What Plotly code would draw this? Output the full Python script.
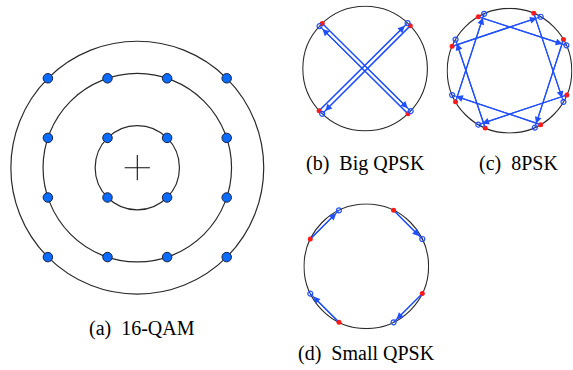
import numpy as np
import plotly.graph_objects as go

W, H = 573, 370

# ---------------- data ----------------
qam_levels = [-3, -1, 1, 3]

bigqpsk_red_deg = [43.5, 133.5, 222.5, 313.5]
bigqpsk_blue_deg = [47, 137, 226.5, 317]
bigqpsk_target = [2, 3, 0, 1]

psk8_red_deg = [30, 67, 120, 157, 210, 247, 300, 337]
psk8_blue_deg = [24, 60, 114, 150, 203, 240, 294, 330]
psk8_target = [6, 7, 0, 1, 2, 3, 4, 5]

smallqpsk_red_deg = [64, 154, 244, 334]
smallqpsk_blue_deg = [26, 116, 206, 296]
smallqpsk_target = [0, 1, 2, 3]

captions = ["(a)\u00a0\u00a016-QAM", "(b)\u00a0\u00a0Big QPSK",
            "(c)\u00a0\u00a08PSK", "(d)\u00a0\u00a0Small QPSK"]

# ---------------- style ----------------
BLUE = "#1f4fff"
DOT = "#0a6cff"
RED = "#ff1a1a"
RING = "#2a2a2a"
FONT = "Liberation Serif, Times New Roman, serif"

fig = go.Figure()
layout = {}


def add_axes(idx, cx, cy, ppu, half):
    r = half / ppu
    xd = [max(0, (cx - half) / W), min(1, (cx + half) / W)]
    yd = [max(0, (H - cy - half) / H), min(1, (H - cy + half) / H)]
    sfx = "" if idx == 1 else str(idx)
    layout["xaxis" + sfx] = dict(domain=xd, range=[-r, r], visible=False,
                                 anchor="y" + sfx, fixedrange=True)
    layout["yaxis" + sfx] = dict(domain=yd, range=[-r, r], visible=False,
                                 anchor="x" + sfx, fixedrange=True)
    return "x" + sfx, "y" + sfx


shapes = []
annotations = []

# ---------- (a) 16-QAM ----------
xa, ya = add_axes(1, 137.3, 167.7, 29.8, 135)
lv = np.array(qam_levels, dtype=float)
gx, gy = np.meshgrid(lv, lv)
radii = sorted(set(np.round(np.hypot(gx, gy).ravel(), 6)))
for rr in radii:
    shapes.append(dict(type="circle", xref=xa, yref=ya, x0=-rr, x1=rr, y0=-rr, y1=rr,
                       line=dict(color=RING, width=1.2), layer="below"))
fig.add_trace(go.Scatter(x=[0], y=[0], xaxis=xa, yaxis=ya, mode="markers",
                         marker=dict(symbol="cross-thin", size=18,
                                     line=dict(color="#111", width=1.1)),
                         hoverinfo="skip", showlegend=False))
fig.add_trace(go.Scatter(x=gx.ravel(), y=gy.ravel(), xaxis=xa, yaxis=ya, mode="markers",
                         marker=dict(size=9.5, color=DOT, line=dict(color="#1a2040", width=1)),
                         hoverinfo="skip", showlegend=False))


def psk_panel(idx, cx, cy, red_deg, blue_deg, target):
    xs, ys = add_axes(idx, cx, cy, 62.3, 63)
    shapes.append(dict(type="circle", xref=xs, yref=ys, x0=-1, x1=1, y0=-1, y1=1,
                       line=dict(color=RING, width=1.1), layer="below"))
    rr = np.radians(red_deg)
    bb = np.radians(blue_deg)
    rx, ry = np.cos(rr), np.sin(rr)
    bx, by = np.cos(bb), np.sin(bb)
    lx, ly = [], []
    for i, j in enumerate(target):
        lx += [rx[i], bx[j], None]
        ly += [ry[i], by[j], None]
        annotations.append(dict(x=bx[j], y=by[j], ax=rx[i], ay=ry[i], xref=xs, yref=ys,
                                axref=xs, ayref=ys, text="", showarrow=True,
                                arrowhead=2, arrowsize=1.15, arrowwidth=1.2,
                                arrowcolor=BLUE, standoff=4))
    fig.add_trace(go.Scatter(x=lx, y=ly, xaxis=xs, yaxis=ys, mode="lines",
                             line=dict(color=BLUE, width=1.2),
                             hoverinfo="skip", showlegend=False))
    fig.add_trace(go.Scatter(x=rx, y=ry, xaxis=xs, yaxis=ys, mode="markers",
                             marker=dict(size=5, color=RED), cliponaxis=False,
                             hoverinfo="skip", showlegend=False))
    fig.add_trace(go.Scatter(x=bx, y=by, xaxis=xs, yaxis=ys, mode="markers",
                             marker=dict(size=5, symbol="circle-open", color=BLUE,
                                         line=dict(width=1.2)),
                             cliponaxis=False, hoverinfo="skip", showlegend=False))


psk_panel(2, 365.1, 68.6, bigqpsk_red_deg, bigqpsk_blue_deg, bigqpsk_target)
psk_panel(3, 509.5, 70.7, psk8_red_deg, psk8_blue_deg, psk8_target)
psk_panel(4, 366.3, 266.3, smallqpsk_red_deg, smallqpsk_blue_deg, smallqpsk_target)

cap_pos = [(141.7, 328), (365.3, 163), (518.3, 163), (366, 353)]
for txt, (px, py) in zip(captions, cap_pos):
    annotations.append(dict(x=px / W, y=(H - py) / H, xref="paper", yref="paper",
                            text=txt, showarrow=False, xanchor="center", yanchor="middle",
                            font=dict(family=FONT, size=20, color="black")))

fig.update_layout(width=W, height=H, margin=dict(l=0, r=0, t=0, b=0),
                  paper_bgcolor="white", plot_bgcolor="white",
                  shapes=shapes, annotations=annotations, showlegend=False, **layout)

fig.write_html("out.html", config={"displayModeBar": False, "staticPlot": True},
               post_script="document.body.style.margin='0';document.body.style.overflow='hidden';")
